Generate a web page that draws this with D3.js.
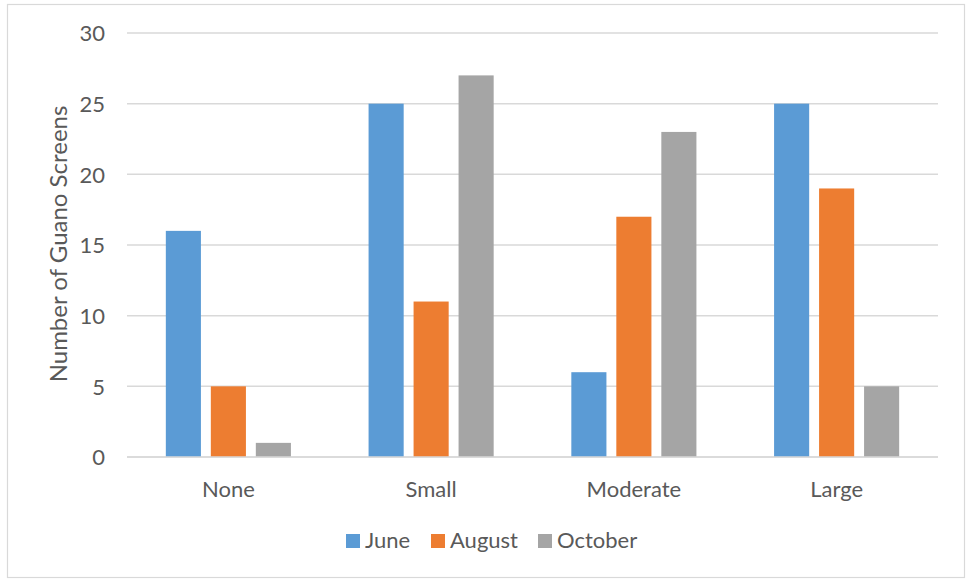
<!DOCTYPE html>
<html><head><meta charset="utf-8">
<script src="https://cdn.jsdelivr.net/npm/d3@7"></script>
<style>body{margin:0;background:#fff;}svg{display:block;}text{font-family:Lato,"Open Sans",sans-serif;fill:#595959;}</style>
</head><body><svg id="c" width="967" height="580"></svg>
<script>
const categories = ["None","Small","Moderate","Large"];
const seriesNames = ["June","August","October"];
const june = [16,25,6,25];
const august = [5,11,17,19];
const october = [1,27,23,5];
const yTicks = [0,5,10,15,20,25,30];
const colors = ["#5b9bd5","#ed7d31","#a5a5a5"];
const seriesValues = [june, august, october];

const svg = d3.select("#c");
svg.append("rect").attr("x",7.5).attr("y",4.5).attr("width",957).attr("height",573)
  .attr("fill","#fff").attr("stroke","#d9d9d9").attr("stroke-width",1.2);

const y = d3.scaleLinear().domain([0,30]).range([457,33]);
const x0 = d3.scaleBand().domain(categories).range([127,938]).paddingInner(0.383).paddingOuter(0.1915);
const x1 = d3.scaleBand().domain(seriesNames).range([0,x0.bandwidth()]).paddingInner(0.22);

// gridlines
svg.append("g").selectAll("line").data(yTicks).join("line")
  .attr("x1",127).attr("x2",938).attr("y1",d=>y(d)).attr("y2",d=>y(d))
  .attr("stroke","#d9d9d9").attr("stroke-width",1.5);

// y axis labels via d3 axis
const yAxis = d3.axisLeft(y).tickValues(yTicks).tickSize(0).tickPadding(0);
const yg = svg.append("g").attr("transform","translate(105,0)").call(yAxis);
yg.select(".domain").remove();
yg.selectAll("text").attr("font-size","22px").attr("fill","#595959").style("font-family","Lato,'Open Sans',sans-serif").attr("dy","0.36em");

// bars
const data = categories.map((c,i)=>({cat:c, vals:seriesNames.map((s,j)=>({s, v:seriesValues[j][i], j}))}));
const groups = svg.append("g").selectAll("g").data(data).join("g")
  .attr("transform",d=>`translate(${x0(d.cat)},0)`);
groups.selectAll("rect").data(d=>d.vals).join("rect")
  .attr("x",d=>x1(d.s)).attr("width",x1.bandwidth())
  .attr("y",d=>y(d.v)).attr("height",d=>y(0)-y(d.v))
  .attr("fill",d=>colors[d.j]);

// baseline
svg.append("line").attr("x1",127).attr("x2",938).attr("y1",y(0)).attr("y2",y(0)).attr("stroke","#d9d9d9").attr("stroke-width",1.5);

// x axis labels
const xAxis = d3.axisBottom(x0).tickSize(0).tickPadding(0);
const xg = svg.append("g").attr("transform","translate(0,497)").call(xAxis);
xg.select(".domain").remove();
xg.selectAll("text").attr("font-size","22px").attr("fill","#595959").style("font-family","Lato,'Open Sans',sans-serif").attr("dy","0");

// y title
svg.append("text").attr("transform","translate(67,244) rotate(-90)").attr("text-anchor","middle")
  .attr("font-size","24px").text("Number of Guano Screens");

// legend
const legX = [346,431,538];
const leg = svg.append("g").selectAll("g").data(seriesNames).join("g")
  .attr("transform",(d,i)=>`translate(${legX[i]},534)`);
leg.append("rect").attr("width",14).attr("height",14).attr("fill",(d,i)=>colors[i]);
leg.append("text").attr("x",19).attr("y",14).attr("font-size","22px").text(d=>d);
</script></body></html>
